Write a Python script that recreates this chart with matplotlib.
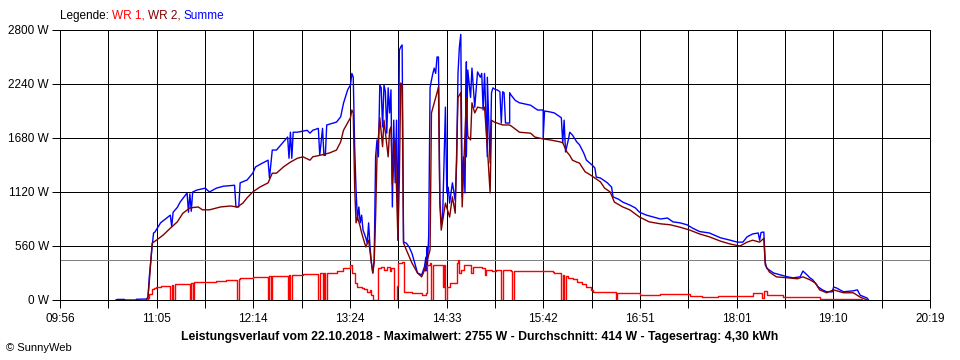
import matplotlib
matplotlib.use("Agg")
import matplotlib.pyplot as plt
import numpy as np

plt.rcParams['font.family'] = ['Liberation Sans', 'DejaVu Sans']

# Summe (blau)
summe_zeit = ["10:36", "10:37", "10:42", "10:43", "10:50", "10:51", "10:58", "10:59", "11:00", "11:02",
              "11:03", "11:04", "11:08", "11:15", "11:16", "11:17", "11:20", "11:22", "11:27", "11:28",
              "11:29", "11:30", "11:31", "11:34", "11:40", "11:43", "11:48", "11:53", "12:01", "12:02",
              "12:04", "12:05", "12:10", "12:14", "12:16", "12:21", "12:25", "12:26", "12:28", "12:31",
              "12:36", "12:39", "12:40", "12:41", "12:42", "12:43", "12:46", "12:53", "12:55", "12:57",
              "13:01", "13:02", "13:04", "13:05", "13:06", "13:07", "13:14", "13:17", "13:19", "13:22",
              "13:24", "13:25", "13:26", "13:27", "13:28", "13:29", "13:30", "13:31", "13:32", "13:33",
              "13:35", "13:36", "13:37", "13:38", "13:39", "13:40", "13:41", "13:42", "13:43", "13:44",
              "13:45", "13:46", "13:47", "13:48", "13:49", "13:50", "13:51", "13:52", "13:53", "13:54",
              "13:55", "13:56", "13:57", "13:58", "13:59", "14:00", "14:01", "14:02", "14:04", "14:06",
              "14:08", "14:10", "14:12", "14:15", "14:17", "14:18", "14:18", "14:19", "14:19", "14:20",
              "14:21", "14:22", "14:23", "14:24", "14:25", "14:26", "14:27", "14:28", "14:29", "14:30",
              "14:32", "14:33", "14:34", "14:35", "14:37", "14:39", "14:40", "14:41", "14:42", "14:43",
              "14:44", "14:45", "14:46", "14:47", "14:47", "14:48", "14:50", "14:51", "14:52", "14:53",
              "14:55", "14:57", "14:58", "14:59", "15:00", "15:02", "15:02", "15:04", "15:05", "15:06",
              "15:08", "15:09", "15:11", "15:12", "15:13", "15:14", "15:15", "15:18", "15:18", "15:19",
              "15:22", "15:25", "15:33", "15:36", "15:38", "15:42", "15:42", "15:43", "15:47", "15:50",
              "15:54", "15:55", "15:56", "15:57", "15:58", "16:00", "16:01", "16:03", "16:06", "16:08",
              "16:11", "16:13", "16:17", "16:19", "16:20", "16:23", "16:25", "16:28", "16:31", "16:32",
              "16:36", "16:39", "16:44", "16:48", "16:51", "16:56", "17:01", "17:06", "17:11", "17:15",
              "17:20", "17:25", "17:29", "17:34", "17:41", "17:49", "17:56", "18:01", "18:05", "18:08",
              "18:12", "18:16", "18:17", "18:18", "18:20", "18:21", "18:22", "18:24", "18:27", "18:32",
              "18:37", "18:41", "18:46", "18:48", "18:51", "18:53", "18:55", "18:59", "19:02", "19:05",
              "19:09", "19:10", "19:12", "19:17", "19:24", "19:27", "19:29", "19:34", "19:35"]
summe_watt = [0, 6, 6, 0, 0, 8, 10, 30, 250, 560,
              695, 705, 800, 880, 760, 910, 960, 1015, 1110, 910,
              1100, 920, 1120, 1140, 1160, 1120, 1160, 1180, 1190, 965,
              965, 1215, 1245, 1315, 1380, 1420, 1450, 1265, 1555, 1555,
              1640, 1690, 1470, 1740, 1470, 1740, 1740, 1760, 1730, 1760,
              1780, 1500, 1780, 1500, 1500, 1815, 1845, 1900, 2040, 2180,
              2230, 2350, 2310, 1590, 1140, 830, 965, 800, 880, 725,
              645, 590, 800, 550, 385, 280, 415, 1485, 1660, 1485,
              2230, 2200, 1795, 2230, 2160, 1730, 2200, 1940, 2180, 965,
              1865, 1215, 1865, 620, 2590, 2625, 2645, 600, 590, 550,
              485, 385, 280, 260, 345, 445, 300, 550, 330, 655,
              2200, 2280, 2350, 2405, 2350, 2520, 2520, 1035, 800, 860,
              2000, 1110, 1170, 1005, 1215, 1035, 1420, 2350, 2625, 2755,
              1070, 1485, 1110, 2470, 1485, 2385, 2100, 2405, 2210, 2000,
              2365, 2310, 2350, 1970, 2350, 1485, 2310, 1420, 2150, 2200,
              2180, 2180, 2160, 1835, 2160, 2150, 1835, 1835, 2150, 2125,
              2070, 2045, 2020, 1990, 1970, 1970, 1680, 1960, 1950, 1940,
              1900, 1890, 1630, 1865, 1535, 1660, 1740, 1710, 1640, 1610,
              1525, 1450, 1400, 1370, 1275, 1265, 1245, 1215, 1170, 1070,
              1045, 1015, 985, 955, 910, 880, 860, 840, 850, 810,
              800, 780, 745, 710, 695, 645, 620, 600, 600, 655,
              685, 695, 620, 700, 705, 395, 330, 310, 280, 260,
              240, 230, 240, 300, 260, 230, 210, 135, 105, 85,
              85, 135, 125, 85, 95, 105, 50, 20, 0]

# WR 2 (dunkelrot)
wr2_zeit = ["10:58", "10:59", "11:00", "11:02", "11:05", "11:10", "11:15", "11:20", "11:24", "11:29",
            "11:35", "11:38", "11:43", "11:51", "11:58", "12:03", "12:07", "12:10", "12:14", "12:19",
            "12:25", "12:28", "12:31", "12:36", "12:41", "12:46", "12:50", "12:55", "12:57", "13:02",
            "13:09", "13:14", "13:17", "13:19", "13:24", "13:25", "13:26", "13:27", "13:28", "13:29",
            "13:31", "13:32", "13:35", "13:37", "13:39", "13:40", "13:41", "13:42", "13:43", "13:45",
            "13:47", "13:48", "13:51", "13:52", "13:53", "13:54", "13:55", "13:56", "13:58", "13:59",
            "14:00", "14:01", "14:02", "14:04", "14:08", "14:12", "14:15", "14:17", "14:19", "14:21",
            "14:22", "14:24", "14:26", "14:27", "14:28", "14:29", "14:32", "14:35", "14:37", "14:39",
            "14:41", "14:43", "14:44", "14:47", "14:48", "14:50", "14:51", "14:53", "14:55", "14:58",
            "15:00", "15:02", "15:04", "15:05", "15:07", "15:09", "15:13", "15:18", "15:20", "15:25",
            "15:33", "15:36", "15:42", "15:47", "15:54", "15:56", "15:59", "16:01", "16:03", "16:06",
            "16:08", "16:12", "16:16", "16:19", "16:23", "16:26", "16:30", "16:33", "16:39", "16:44",
            "16:51", "16:58", "17:06", "17:13", "17:20", "17:27", "17:34", "17:41", "17:49", "17:56",
            "18:03", "18:08", "18:12", "18:17", "18:20", "18:21", "18:24", "18:29", "18:37", "18:44",
            "18:48", "18:53", "18:57", "19:00", "19:05", "19:10", "19:17", "19:24", "19:29", "19:34"]
wr2_watt = [0, 30, 200, 590, 620, 675, 745, 810, 900, 955,
            965, 935, 935, 965, 975, 965, 1005, 1060, 1120, 1170,
            1215, 1315, 1315, 1380, 1430, 1470, 1485, 1450, 1485, 1500,
            1525, 1555, 1640, 1760, 1890, 1970, 1940, 1170, 800, 860,
            760, 695, 550, 620, 385, 280, 400, 860, 1485, 1890,
            1590, 1865, 1485, 1760, 1795, 1200, 1420, 1660, 620, 1245,
            2250, 2230, 590, 520, 385, 280, 240, 310, 415, 520,
            1940, 2045, 2150, 2210, 1005, 725, 1005, 860, 1070, 900,
            2100, 2150, 965, 2100, 1700, 1660, 2045, 1940, 2000, 1990,
            2000, 1590, 1110, 1865, 1845, 1835, 1815, 1815, 1795, 1740,
            1730, 1690, 1670, 1660, 1640, 1630, 1535, 1500, 1450, 1430,
            1420, 1330, 1295, 1265, 1225, 1160, 1120, 1015, 965, 935,
            860, 810, 790, 780, 755, 725, 685, 655, 610, 580,
            560, 600, 620, 600, 640, 365, 290, 240, 230, 220,
            240, 210, 175, 105, 75, 105, 75, 75, 30, 0]

# WR 1 (rot), Treppenverlauf
wr1_zeit = ["10:58", "10:59", "11:00", "11:02", "11:03", "11:05", "11:08", "11:15", "11:16", "11:17",
            "11:18", "11:22", "11:29", "11:30", "11:31", "11:32", "11:41", "11:48", "11:55", "12:03",
            "12:04", "12:05", "12:14", "12:25", "12:26", "12:27", "12:28", "12:39", "12:40", "12:41",
            "12:42", "12:43", "12:50", "13:01", "13:02", "13:04", "13:05", "13:06", "13:07", "13:14",
            "13:19", "13:24", "13:25", "13:27", "13:29", "13:32", "13:34", "13:36", "13:38", "13:39",
            "13:40", "13:44", "13:46", "13:48", "13:50", "13:52", "13:53", "13:55", "13:57", "13:58",
            "14:01", "14:02", "14:08", "14:15", "14:18", "14:19", "14:21", "14:22", "14:23", "14:29",
            "14:30", "14:31", "14:32", "14:33", "14:35", "14:38", "14:40", "14:41", "14:42", "14:43",
            "14:45", "14:48", "14:50", "14:52", "14:55", "14:58", "15:00", "15:01", "15:05", "15:08",
            "15:12", "15:13", "15:19", "15:20", "15:21", "15:49", "15:50", "15:54", "15:55", "15:56",
            "15:57", "15:58", "16:00", "16:03", "16:06", "16:10", "16:13", "16:16", "16:18", "16:33",
            "16:34", "16:35", "16:51", "17:06", "17:27", "17:36", "17:47", "18:01", "18:12", "18:17",
            "18:19", "18:20", "18:22", "18:34", "18:46", "19:00", "19:29", "19:30"]
wr1_watt = [0, 20, 60, 110, 125, 135, 145, 0, 155, 0,
            165, 170, 0, 175, 0, 185, 190, 195, 205, 0,
            215, 225, 235, 0, 245, 0, 250, 0, 255, 0,
            255, 260, 270, 0, 280, 0, 280, 0, 285, 300,
            330, 365, 280, 175, 135, 125, 110, 85, 105, 50,
            0, 330, 345, 310, 345, 300, 330, 0, 150, 385,
            395, 85, 75, 50, 75, 365, 385, 0, 365, 365,
            135, 365, 0, 135, 175, 180, 385, 415, 275, 310,
            365, 365, 280, 345, 345, 330, 260, 310, 300, 310,
            0, 310, 300, 0, 300, 295, 285, 275, 0, 260,
            0, 250, 230, 215, 190, 170, 135, 105, 85, 85,
            0, 75, 50, 65, 40, 30, 45, 40, 75, 75,
            20, 90, 55, 30, 30, 10, 10, 0]

x_beschriftung = ["09:56", "11:05", "12:14", "13:24", "14:33", "15:42", "16:51", "18:01", "19:10", "20:19"]
y_werte = [0, 560, 1120, 1680, 2240, 2800]
durchschnitt = 414
titel = "Leistungsverlauf vom 22.10.2018 - Maximalwert: 2755 W - Durchschnitt: 414 W - Tagesertrag: 4,30 kWh"


def in_minuten(liste):
    return np.array([int(s[:2]) * 60 + int(s[3:]) for s in liste])


start = in_minuten(x_beschriftung[:1])[0]
ende = in_minuten(x_beschriftung[-1:])[0]

fig = plt.figure(figsize=(9.6, 3.6), dpi=100)
ax = fig.add_axes([60 / 960, 60 / 360, 870 / 960, 270 / 360])

lw = 0.72  # 1 Pixel
ax.axhline(durchschnitt, color='#808080', lw=lw, zorder=1.5)
ax.plot(in_minuten(summe_zeit), summe_watt, color='#0000ff', lw=1.0)
ax.plot(in_minuten(wr2_zeit), wr2_watt, color='#800000', lw=1.0)
ax.plot(in_minuten(wr1_zeit), wr1_watt, color='#ff0000', lw=1.0, drawstyle='steps-post')

ax.set_xlim(start, ende)
ax.set_ylim(0, 2800)
xt = np.linspace(start, ende, 2 * len(x_beschriftung) - 1)
ax.set_xticks(xt)
labels = []
for i in range(len(xt)):
    labels.append(x_beschriftung[i // 2] if i % 2 == 0 else "")
ax.set_xticklabels(labels)
ax.set_yticks(y_werte)
ax.set_yticklabels([f"{v} W" for v in y_werte])
ax.set_axisbelow(True)
ax.grid(True, color='black', lw=lw)
ax.tick_params(axis='both', length=6, width=lw, color='black', labelsize=8.5, pad=3)
ax.tick_params(axis='y', pad=2)
for s in ax.spines.values():
    s.set_linewidth(lw)

# Legende oben links, farbig zusammengesetzt
fig.canvas.draw()
r = fig.canvas.get_renderer()
x0 = 60 / 960
teile = [("Legende: ", 'black'), ("WR 1, ", '#ff0000'), ("WR 2, ", '#800000'), ("Summe", '#0000ff')]
for txt, col in teile:
    t = fig.text(x0, 1 - 16 / 360, txt, color=col, fontsize=8.5, va='center', ha='left')
    bb = t.get_window_extent(renderer=r)
    x0 += bb.width / fig.bbox.width

fig.text(0.5, 1 - 337 / 360, titel, ha='center', va='center', fontsize=8.8, fontweight='bold')
fig.text(6 / 960, 1 - 348 / 360, "© SunnyWeb", ha='left', va='center', fontsize=8)

fig.savefig("out.png", dpi=100)
